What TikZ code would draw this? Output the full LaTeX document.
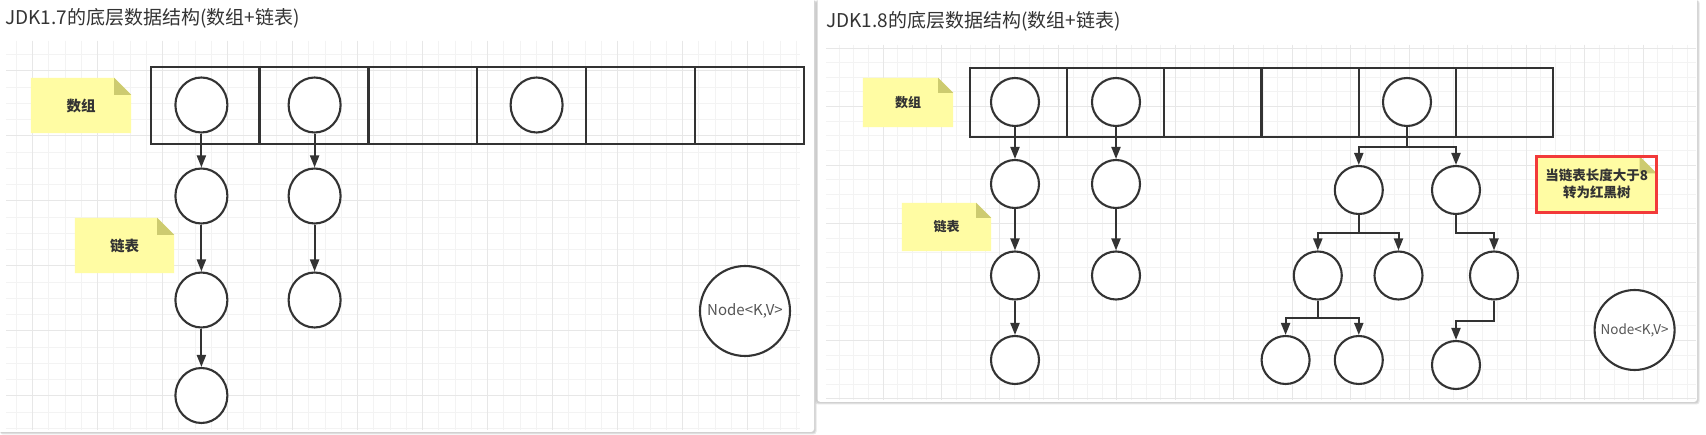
\documentclass[tikz,border=0pt]{standalone}
\usepackage{fontspec}
\setmainfont{Noto Sans CJK SC}
\usetikzlibrary{arrows.meta,shapes.geometric,calc}
\definecolor{ink}{HTML}{333333}
\definecolor{gridmin}{HTML}{F3F3F3}
\definecolor{gridmaj}{HTML}{E7E7E7}
\definecolor{notefill}{HTML}{FFFCA3}
\definecolor{notefold}{HTML}{CDCB70}
\definecolor{redb}{HTML}{F23A3A}
\definecolor{txt}{HTML}{555555}
\definecolor{shad}{HTML}{BDBDBD}
\newcommand\mynote[8]{%
  \path node[minimum width=#4pt, minimum height=#5pt, inner sep=0pt] (#1) at (#2,#3) {};
  \fill[notefill] (#1.north west) -- ($(#1.north east)+(-#6,0)$) -- ($(#1.north east)+(0,#6)$) -- (#1.south east) -- (#1.south west) -- cycle;
  \fill[notefold] ($(#1.north east)+(-#6,0)$) -- ($(#1.north east)+(-#6,#6)$) -- ($(#1.north east)+(0,#6)$) -- cycle;
  \node[notetext, font=\bfseries\fontsize{#7}{17}\selectfont] (#1-t) at (#1.center) {#8};}
\begin{document}
\begin{tikzpicture}[x=1pt,y=-1pt,
  notetext/.style={text=ink, inner sep=0pt, align=center},
  cellL/.style={draw=ink, line width=2.2pt, minimum width=108.9pt, minimum height=77.3pt, inner sep=0pt},
  cellR/.style={draw=ink, line width=2.2pt, minimum width=97.17pt, minimum height=69pt, inner sep=0pt},
  cirL/.style={ellipse, draw=ink, fill=white, line width=2.1pt, minimum width=52pt, minimum height=55pt, inner sep=0pt},
  cirR/.style={ellipse, draw=ink, fill=white, line width=2.1pt, minimum width=48pt, minimum height=48pt, inner sep=0pt},
  kv/.style={circle, draw=ink, fill=white, line width=2.1pt, inner sep=0pt, text=txt},
  arr/.style={draw=ink, line width=2pt, -{Triangle[length=12pt,width=9pt]}},
  ttl/.style={anchor=west, text=ink, inner sep=0pt, font=\fontsize{19}{19}\selectfont}]
\useasboundingbox (0,0) rectangle (1706,435);
\fill[white] (0,0) rectangle (1706,435);
% panels with shadows
\fill[shad, opacity=0.35, rounded corners=3pt] (0,0) rectangle (816.5,434.5);
\fill[shad, opacity=0.5, rounded corners=3pt] (0,0) rectangle (815.5,433.5);
\fill[white, rounded corners=3pt] (-3,-3) rectangle (814,432);
\fill[shad, opacity=0.35, rounded corners=3pt] (815,0) rectangle (1699.5,404.5);
\fill[shad, opacity=0.5, rounded corners=3pt] (816,0) rectangle (1698.5,403.5);
\fill[white, rounded corners=3pt] (817.5,-3) rectangle (1697,402);
% grid left
\begin{scope}
\clip (6,41) rectangle (800,430);
\foreach \k in {1,...,49} {\draw[gridmin, line width=1pt] (\k*16.25,41) -- (\k*16.25,430);}
\foreach \j in {3,...,26} {\draw[gridmin, line width=1pt] (6,6+\j*16.25) -- (800,6+\j*16.25);}
\foreach \k in {0,...,11} {\draw[gridmaj, line width=1pt] (32.5+\k*65,41) -- (32.5+\k*65,430);}
\foreach \j in {0,...,5} {\draw[gridmaj, line width=1pt] (6,71+\j*65) -- (800,71+\j*65);}
\end{scope}
% grid right
\begin{scope}
\clip (826,45) rectangle (1696,400);
\foreach \k in {-3,...,55} {\draw[gridmin, line width=1pt] (883+\k*14.62,45) -- (883+\k*14.62,400);}
\foreach \j in {0,...,24} {\draw[gridmin, line width=1pt] (826,399-\j*14.62) -- (1696,399-\j*14.62);}
\foreach \k in {-1,...,13} {\draw[gridmaj, line width=1pt] (883+\k*58.48,45) -- (883+\k*58.48,400);}
\foreach \j in {0,...,6} {\draw[gridmaj, line width=1pt] (826,399-\j*58.48) -- (1696,399-\j*58.48);}
\end{scope}
% titles
\node[ttl] (titleL) at (5,18) {JDK1.7的底层数据结构(数组+链表)};
\node[ttl] (titleR) at (826,21) {JDK1.8的底层数据结构(数组+链表)};
% ===== left panel =====
\foreach \i/\x in {1/205.05,2/313.95,3/422.85,4/531.75,5/640.65,6/749.55}
  {\node[cellL] (aL\i) at (\x,105.35) {};}
\node[cirL] (L10) at (201.4,105) {};
\node[cirL] (L20) at (314.6,105) {};
\node[cirL] (L40) at (536.6,105) {};
\node[cirL] (L11) at (201.4,196) {};
\node[cirL] (L12) at (201.4,300) {};
\node[cirL] (L13) at (201.4,395.5) {};
\node[cirL] (L21) at (314.6,196) {};
\node[cirL] (L22) at (314.6,300) {};
\draw[arr] (L10.south) -- (L11.north);
\draw[arr] (L11.south) -- (L12.north);
\draw[arr] (L12.south) -- (L13.north);
\draw[arr] (L20.south) -- (L21.north);
\draw[arr] (L21.south) -- (L22.north);
\node[kv, minimum size=90pt, font=\fontsize{15}{15}\selectfont] (kvL) at (745,311) {Node<K,V>};
\mynote{nL1}{81}{105.5}{100}{55}{17}{14.5}{数组}
\mynote{nL2}{124.5}{245.5}{99}{55}{17}{14.5}{链表}
% ===== right panel =====
\foreach \i/\x in {1/1018.6,2/1115.8,3/1212.9,4/1310.1,5/1407.3,6/1504.4}
  {\node[cellR] (aR\i) at (\x,102.5) {};}
\node[cirR] (R10) at (1015,102) {};
\node[cirR] (R20) at (1116,102) {};
\node[cirR] (R50) at (1407,102) {};
\node[cirR] (R11) at (1015,184) {};
\node[cirR] (R12) at (1015,275.5) {};
\node[cirR] (R13) at (1015,360) {};
\node[cirR] (R21) at (1116,184) {};
\node[cirR] (R22) at (1116,275.5) {};
\node[cirR] (T1) at (1358.8,190) {};
\node[cirR] (T2) at (1456,190) {};
\node[cirR] (T3) at (1317.8,275.5) {};
\node[cirR] (T4) at (1398.5,275.5) {};
\node[cirR] (T5) at (1494,275.5) {};
\node[cirR] (T6) at (1285.6,360) {};
\node[cirR] (T7) at (1358.8,360) {};
\node[cirR] (T8) at (1456,365) {};
\draw[arr] (R10.south) -- (R11.north);
\draw[arr] (R11.south) -- (R12.north);
\draw[arr] (R12.south) -- (R13.north);
\draw[arr] (R20.south) -- (R21.north);
\draw[arr] (R21.south) -- (R22.north);
\coordinate (b0) at (1407,146.7);
\coordinate (b1) at (1358.8,233);
\coordinate (b2) at (1456,233);
\coordinate (b3) at (1317.8,317.7);
\coordinate (b5) at (1494,320.7);
\draw[arr] (R50.south) -- (b0) -| (T1.north);
\draw[arr] (b0) -| (T2.north);
\draw[arr] (T1.south) -- (b1) -| (T3.north);
\draw[arr] (b1) -| (T4.north);
\draw[arr] (T2.south) -- (b2) -| (T5.north);
\draw[arr] (T3.south) -- (b3) -| (T6.north);
\draw[arr] (b3) -| (T7.north);
\draw[arr] (T5.south) -- (b5) -| (T8.north);
\node[kv, minimum size=80pt, font=\fontsize{13.5}{13.5}\selectfont] (kvR) at (1634.6,330) {Node<K,V>};
\mynote{nR1}{908}{102.5}{90}{49}{15}{13}{数组}
\mynote{nR2}{946.5}{227}{89}{48}{15}{13}{链表}
\mynote{nR3}{1596.75}{184.25}{119.5}{55.5}{17}{13.5}{当链表长度大于8\\转为红黑树}
\draw[redb, line width=3pt] (nR3.north west) rectangle (nR3.south east);
\end{tikzpicture}
\end{document}
